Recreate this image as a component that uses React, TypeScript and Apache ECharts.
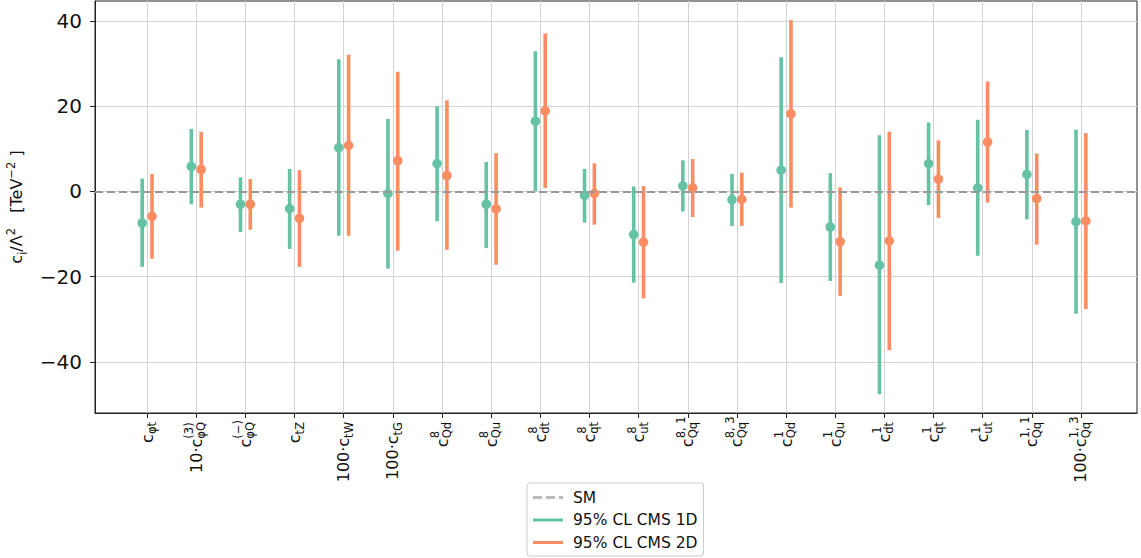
import React, { useEffect, useRef } from 'react';
import * as echarts from 'echarts';

const FONT = 'DejaVu Sans';

// Rich-text tick labels (rotated 90°)
const categoryLabels = [
  '{c|c}{sub|φt}',
  '{p|10·}{c|c}{sup|(3)}{sub|φQ}',
  '{c|c}{sup|(−)}{sub|φQ}',
  '{c|c}{sub|tZ}',
  '{p|100·}{c|c}{sub|tW}',
  '{p|100·}{c|c}{sub|tG}',
  '{c|c}{sup|8}{sub|Qd}',
  '{c|c}{sup|8}{sub|Qu}',
  '{c|c}{sup|8}{sub|dt}',
  '{c|c}{sup|8}{sub|qt}',
  '{c|c}{sup|8}{sub|ut}',
  '{c|c}{sup|8, 1}{sub|Qq}',
  '{c|c}{sup|8, 3}{sub|Qq}',
  '{c|c}{sup|1}{sub|Qd}',
  '{c|c}{sup|1}{sub|Qu}',
  '{c|c}{sup|1}{sub|dt}',
  '{c|c}{sup|1}{sub|qt}',
  '{c|c}{sup|1}{sub|ut}',
  '{c|c}{sup|1, 1}{sub|Qq}',
  '{p|100·}{c|c}{sup|1, 3}{sub|Qq}',
];

const yTicks = [-40, -20, 0, 20, 40];

// 95% CL CMS 1D
const best1D = [-7.4, 5.85, -3.0, -4.05, 10.3, -0.5, 6.55, -3.0, 16.5, -0.94, -10.1, 1.32, -1.95, 5.0, -8.35, -17.3, 6.55, 0.86, 4.0, -7.1];
const low1D = [-17.7, -3.0, -9.5, -13.5, -10.4, -18.1, -7.0, -13.3, 0.1, -7.3, -21.4, -4.7, -8.1, -21.5, -21.0, -47.6, -3.2, -15.1, -6.55, -28.7];
const high1D = [3.0, 14.7, 3.3, 5.3, 31.0, 17.0, 20.0, 6.9, 32.9, 5.3, 1.17, 7.3, 4.1, 31.5, 4.3, 13.2, 16.2, 16.8, 14.4, 14.5];

// 95% CL CMS 2D
const best2D = [-5.85, 5.15, -3.0, -6.3, 10.8, 7.2, 3.74, -4.1, 18.9, -0.47, -11.9, 0.86, -1.87, 18.2, -11.8, -11.6, 2.9, 11.6, -1.7, -6.9];
const low2D = [-15.8, -3.8, -9.0, -17.7, -10.4, -13.9, -13.7, -17.2, 0.8, -7.8, -25.1, -6.0, -8.1, -3.8, -24.5, -37.3, -6.2, -2.6, -12.5, -27.6];
const high2D = [4.1, 14.0, 2.9, 5.0, 32.1, 28.1, 21.4, 9.0, 37.1, 6.6, 1.25, 7.6, 4.4, 40.2, 0.94, 14.0, 12.0, 25.8, 8.9, 13.7];

const GREEN = '#66c2a5';
const ORANGE = '#fc8d62';

const xIdx = categoryLabels.map((_, i) => i);

function errorSeries(name: string, color: string, offset: number, best: number[], lo: number[], hi: number[]) {
  return {
    name,
    type: 'custom',
    color,
    itemStyle: { color },
    z: 3,
    data: best.map((b, i) => [i + offset, b, lo[i], hi[i]]),
    encode: { x: 0, y: [1, 2, 3] },
    renderItem: (params: any, api: any) => {
      const x = api.value(0);
      const pC = api.coord([x, api.value(1)]);
      const pL = api.coord([x, api.value(2)]);
      const pH = api.coord([x, api.value(3)]);
      return {
        type: 'group',
        children: [
          {
            type: 'line',
            shape: { x1: pL[0], y1: pL[1], x2: pH[0], y2: pH[1] },
            style: { stroke: color, lineWidth: 3.6 },
          },
          {
            type: 'circle',
            shape: { cx: pC[0], cy: pC[1], r: 4.8 },
            style: { fill: color },
          },
        ],
      };
    },
  };
}

const LH = 28;

export default function App() {
  const ref = useRef<HTMLDivElement>(null);
  useEffect(() => {
    document.body.style.margin = '0';
    const chart = echarts.init(ref.current!, undefined, { renderer: 'svg' });
    const option: any = {
      animation: false,
      textStyle: { fontFamily: FONT },
      grid: {
        left: 95,
        right: 4,
        top: 1,
        bottom: 145,
        show: true,
        containLabel: false,
        outerBoundsMode: 'none',
        borderColor: '#222',
        borderWidth: 1,
        backgroundColor: 'transparent',
      },
      legend: {
        orient: 'vertical',
        left: 527,
        top: 483,
        backgroundColor: '#fff',
        borderColor: '#ccc',
        borderWidth: 1,
        borderRadius: 3,
        padding: [6, 6, 5, 6],
        itemWidth: 30,
        itemHeight: 3,
        itemGap: 5.5,
        symbolKeepAspect: false,
        textStyle: { fontSize: 15.5, fontFamily: FONT, color: '#111', lineHeight: 17, padding: [0, 0, 0, 5] },
        data: [
          { name: 'SM', icon: 'path://M0,0h9v2h-9z M13,0h9v2h-9z M26,0h4v2h-4z', itemStyle: { color: '#bbbbbb' } },
          { name: '95% CL CMS 1D', icon: 'rect' },
          { name: '95% CL CMS 2D', icon: 'rect' },
        ],
      },
      xAxis: {
        type: 'value',
        min: -1.06,
        max: 20.14,
        axisLine: { show: true, onZero: false, lineStyle: { color: '#222', width: 1 } },
        axisTick: { show: true, length: 5, customValues: xIdx, lineStyle: { color: '#222' } },
        splitLine: { show: true, lineStyle: { color: '#d3d3d3', width: 1 } },
        axisLabel: {
          customValues: xIdx,
          rotate: 90,
          margin: 9,
          color: '#111',
          formatter: (v: number) => categoryLabels[Math.round(v)] ?? '',
          rich: {
            c: { fontSize: 16, fontFamily: FONT, lineHeight: LH, color: '#111', align: 'left' },
            p: { fontSize: 16, fontFamily: FONT, lineHeight: LH, color: '#111', align: 'left' },
            sub: { fontSize: 11.5, fontFamily: FONT, lineHeight: LH, verticalAlign: 'bottom', color: '#111', align: 'left', padding: [0, 0, 3, 0] },
            sup: { fontSize: 11.5, fontFamily: FONT, lineHeight: LH, verticalAlign: 'top', color: '#111', align: 'left', width: 0, padding: [1, 0, 0, 0] },
          },
        },
      },
      yAxis: {
        type: 'value',
        min: -52,
        max: 44.7,
        name: '{t|c}{s|i}{t|/Λ}{u|2}{t|   [TeV}{u|−2}{t| ]}',
        nameLocation: 'middle',
        nameRotate: 90,
        nameGap: 62,
        nameTextStyle: {
          rich: {
            t: { fontSize: 16, fontFamily: FONT, color: '#111', lineHeight: 24 },
            s: { fontSize: 11.5, fontFamily: FONT, color: '#111', lineHeight: 24, verticalAlign: 'bottom' },
            u: { fontSize: 11.5, fontFamily: FONT, color: '#111', lineHeight: 24, verticalAlign: 'top' },
          },
        },
        axisLine: { show: true, onZero: false, lineStyle: { color: '#222', width: 1 } },
        axisTick: { show: true, length: 5, customValues: yTicks, lineStyle: { color: '#222' } },
        splitLine: { show: true, lineStyle: { color: '#d3d3d3', width: 1 } },
        axisLabel: {
          customValues: yTicks,
          fontSize: 20,
          margin: 13,
          color: '#111',
          fontFamily: FONT,
          formatter: (v: number) => (v < 0 ? '−' + Math.abs(v) : String(v)),
        },
      },
      series: [
        {
          name: 'SM',
          type: 'line',
          color: '#999999',
          symbol: 'none',
          data: [],
          lineStyle: { color: '#999999', type: [8, 4], width: 2 },
          markLine: {
            silent: true,
            symbol: 'none',
            label: { show: false },
            lineStyle: { color: '#999999', type: [8, 4], width: 2 },
            data: [{ yAxis: 0 }],
          },
          z: 2,
        },
        errorSeries('95% CL CMS 1D', GREEN, -0.1, best1D, low1D, high1D),
        errorSeries('95% CL CMS 2D', ORANGE, 0.1, best2D, low2D, high2D),
      ],
    };
    chart.setOption(option);
    return () => chart.dispose();
  }, []);
  return <div ref={ref} style={{ width: 1141, height: 558 }} />;
}
